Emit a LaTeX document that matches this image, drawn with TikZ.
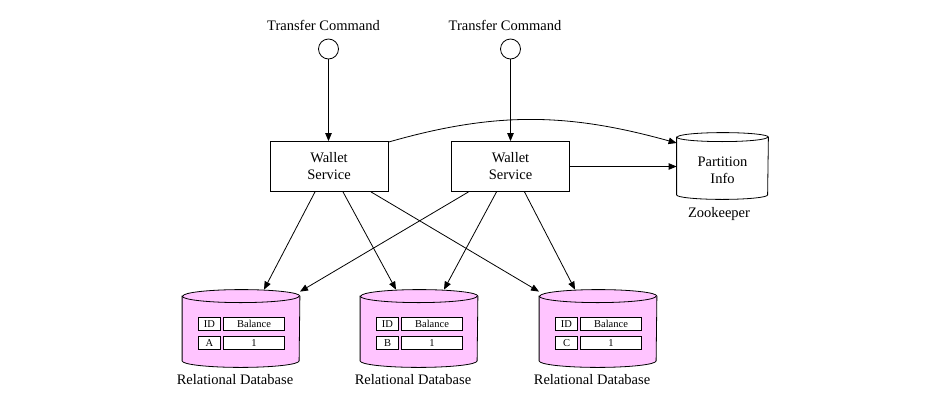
\documentclass[tikz,border=0pt]{standalone}
\usepackage{fontspec}
\setmainfont{Liberation Serif}
\usetikzlibrary{arrows.meta,positioning}
\definecolor{dbpink}{HTML}{FFC4FF}
\begin{document}
\begin{tikzpicture}[x=1pt,y=-1pt,line width=0.8pt,
	txt/.style={font=\fontsize{14.5}{17}\selectfont,align=center,inner sep=0pt},
	small/.style={font=\fontsize{10.5}{12}\selectfont},
	cmd/.style={circle,draw,fill=white,minimum size=20pt,inner sep=0pt},
	svc/.style={txt,draw,fill=white,minimum width=118pt,minimum height=50pt},
	dbbox/.style={rectangle,inner sep=0pt},
	cell/.style={small,draw,fill=white,minimum height=13pt,inner sep=0pt},
	arr/.style={-{Triangle[length=8pt,width=6.5pt]}}]
	\useasboundingbox (0,0) rectangle (945,407);
	% commands and services
	\node[txt] (tclbl1) at (323.5,25) {Transfer Command};
	\node[txt] (tclbl2) at (505,25) {Transfer Command};
	\node[cmd] (tc1) at (328.5,49) {};
	\node[cmd] (tc2) at (510.5,49) {};
	\node[svc] (ws1) at (329,166.5) {Wallet\\Service};
	\node[svc] (ws2) at (510.5,166.5) {Wallet\\Service};
	% zookeeper
	\node[dbbox,minimum width=91pt,minimum height=66pt] (pi) at (722.5,166) {};
	\filldraw[fill=white] ([yshift=-4.5pt]pi.north west) -- ([yshift=4.5pt]pi.south west)
		arc[start angle=180,end angle=360,x radius=45.5pt,y radius=4.5pt]
		-- ([yshift=-4.5pt]pi.north east)
		arc[start angle=0,end angle=180,x radius=45.5pt,y radius=4.5pt] -- cycle;
	\draw ([yshift=-4.5pt]pi.north west) arc[start angle=180,end angle=360,x radius=45.5pt,y radius=4.5pt];
	\node[txt] (pitxt) at ([yshift=-4.5pt]pi.center) {Partition\\Info};
	\node[txt] (zk) at (719,214) {Zookeeper};
	% databases
	\foreach \n/\x/\k in {1/241/A,2/419/B,3/598/C}{
		\node[dbbox,minimum width=117pt,minimum height=77pt] (db\n) at (\x,328.5) {};
		\filldraw[fill=dbpink] ([yshift=-6.5pt]db\n.north west) -- ([yshift=6.5pt]db\n.south west)
			arc[start angle=180,end angle=360,x radius=58.5pt,y radius=6.5pt]
			-- ([yshift=-6.5pt]db\n.north east)
			arc[start angle=0,end angle=180,x radius=58.5pt,y radius=6.5pt] -- cycle;
		\draw ([yshift=-6.5pt]db\n.north west) arc[start angle=180,end angle=360,x radius=58.5pt,y radius=6.5pt];
		\node[cell,minimum width=22pt] (id\n) at ([xshift=-31.5pt,yshift=4.5pt]db\n.center) {ID};
		\node[cell,minimum width=61pt] (bal\n) at ([xshift=13pt,yshift=4.5pt]db\n.center) {Balance};
		\node[cell,minimum width=22pt] (key\n) at ([xshift=-31.5pt,yshift=-14.5pt]db\n.center) {\k};
		\node[cell,minimum width=61pt] (val\n) at ([xshift=13pt,yshift=-14.5pt]db\n.center) {1};
		\node[txt] (dblbl\n) at (\x-6,380) {Relational Database};
	}
	\draw[arr] (tc1) -- (tc1 |- ws1.north);
	\draw[arr] (tc2) -- (tc2 |- ws2.north);
	\draw[arr] (ws2) -- (ws2 -| pi.west);
	\draw[arr] ([yshift=-1pt]ws1.north east) .. controls +(108,-31) and +(-108,-30) .. ([yshift=23pt]pi.west);
	\draw[arr] ([xshift=-14pt]ws1.south) -- ([xshift=23pt]db1.north);
	\draw[arr] ([xshift=14pt]ws1.south) -- ([xshift=-23pt]db2.north);
	\draw[arr] ([xshift=42pt]ws1.south) -- ([xshift=-59pt,yshift=-2pt]db3.north);
	\draw[arr] ([xshift=-42pt]ws2.south) -- ([xshift=59pt,yshift=-2pt]db1.north);
	\draw[arr] ([xshift=-14pt]ws2.south) -- ([xshift=25pt]db2.north);
	\draw[arr] ([xshift=14pt]ws2.south) -- ([xshift=-23pt]db3.north);
\end{tikzpicture}
\end{document}
